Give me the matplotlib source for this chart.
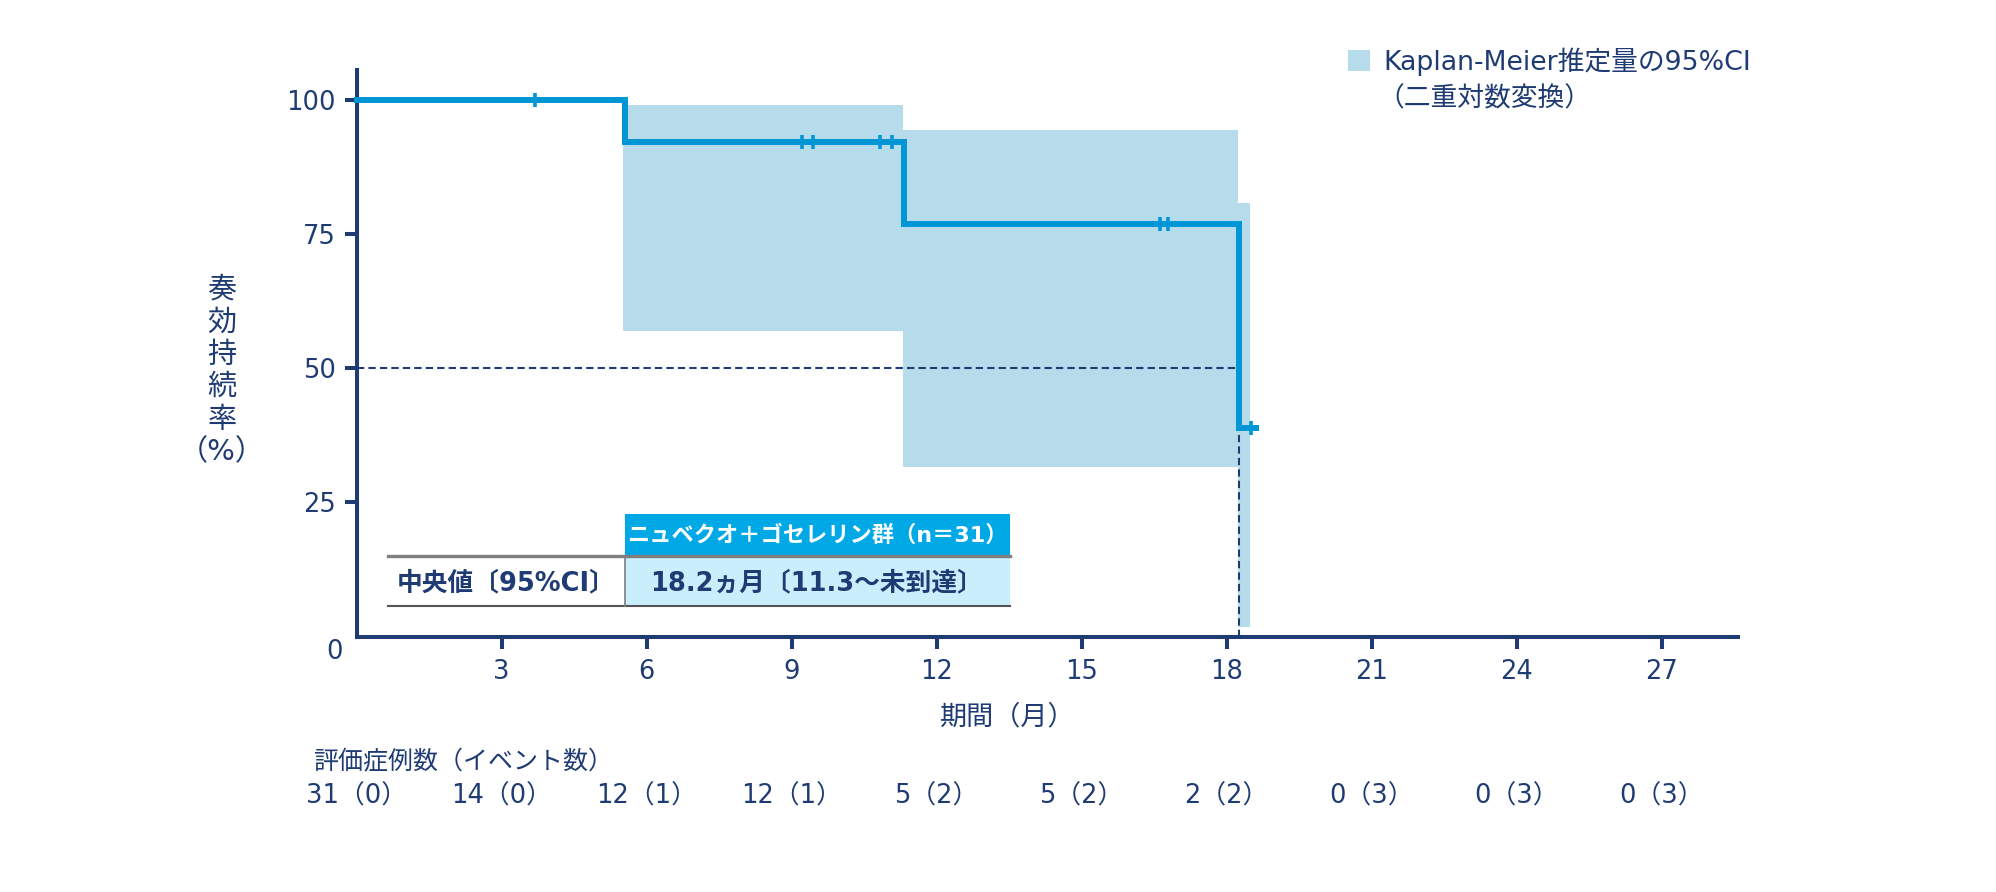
import matplotlib
matplotlib.use("Agg")
import matplotlib.pyplot as plt
from matplotlib.patches import Rectangle
from matplotlib.lines import Line2D
from matplotlib.transforms import blended_transform_factory

plt.rcParams['font.family'] = ['DejaVu Sans', 'Noto Sans CJK JP']

# ---------------- data ----------------
step_times = [0, 5.55, 11.32, 18.26, 18.6]
step_surv = [100, 92.1, 76.8, 38.8, 38.8]

ci_times = [5.52, 11.3, 18.24, 18.48]
ci_upper = [98.9, 94.3, 80.8, 80.8]
ci_lower = [56.9, 31.5, 1.75, 1.75]

censor_times = [3.68, 9.21, 9.45, 10.83, 11.07, 16.62, 16.78, 18.5]
censor_surv = [100, 92.1, 92.1, 92.1, 92.1, 76.8, 76.8, 38.8]

median_time = 18.26
x_ticks = [3, 6, 9, 12, 15, 18, 21, 24, 27]
y_ticks = [25, 50, 75, 100]

risk_times = [0, 3, 6, 9, 12, 15, 18, 21, 24, 27]
risk_n = [31, 14, 12, 12, 5, 5, 2, 0, 0, 0]
risk_events = [0, 0, 1, 1, 2, 2, 2, 3, 3, 3]

ylabel_text = "奏\n効\n持\n続\n率\n（%）"
xlabel_text = "期間（月）"
risk_title = "評価症例数（イベント数）"
legend_line1 = "Kaplan-Meier推定量の95%CI"
legend_line2 = "（二重対数変換）"
table_header = "ニュベクオ＋ゴセレリン群（n＝31）"
table_rowlabel = "中央値〔95%CI〕"
table_value = "18.2ヵ月〔11.3～未到達〕"

# ---------------- style ----------------
NAVY = '#1f3b73'
CURVE = '#0096d6'
BAND = '#b6dcec'
HEADER = '#00a9e6'
CELL = '#c9eefc'

W_PX, H_PX = 1996, 892
fig = plt.figure(figsize=(W_PX / 100, H_PX / 100), dpi=100)


def fx(x):
    return x / W_PX


def fy(y):
    return 1 - y / H_PX


L, R = 356.7, 1738
T, B = 70, 636.7
ax = fig.add_axes([fx(L), fy(B), fx(R) - fx(L), fy(T) - fy(B)])
ax.set_xlim(0, 28.58)
ax.set_ylim(0, 105.5)

for s in ['top', 'right']:
    ax.spines[s].set_visible(False)
for s in ['left', 'bottom']:
    ax.spines[s].set_color(NAVY)
    ax.spines[s].set_linewidth(2.9)

ax.set_xticks(x_ticks)
ax.set_yticks(y_ticks)
ax.tick_params(axis='both', direction='out', length=8.5, width=2.9,
               color=NAVY, labelcolor=NAVY, labelsize=18.5)
ax.tick_params(axis='x', pad=7.5)
ax.tick_params(axis='y', pad=6.5)
ax.text(-0.45, -2.9, '0', ha='center', va='center', fontsize=18.5,
        color=NAVY, clip_on=False)

# CI band
ax.fill_between(ci_times, ci_lower, ci_upper, step='post', color=BAND,
                linewidth=0, zorder=1)

# median dashed lines
ax.plot([0, median_time], [50, 50], color=NAVY, lw=1.5, dashes=(3.5, 2),
        zorder=2)
ax.plot([median_time, median_time], [0, step_surv[3]], color=NAVY, lw=1.5,
        dashes=(3.5, 2), zorder=2)

# KM curve
ax.plot(step_times, step_surv, drawstyle='steps-post', color=CURVE, lw=4.3,
        solid_joinstyle='miter', zorder=3, clip_on=False)
ax.plot(censor_times, censor_surv, linestyle='none', marker='|',
        markersize=10, markeredgewidth=2.6, color=CURVE, zorder=4,
        clip_on=False)

# labels
fig.text(fx(222), fy(371), ylabel_text, ha='center', va='center',
         fontsize=21, color=NAVY, linespacing=1.2)
fig.text(fx(1008), fy(717), xlabel_text, ha='center', va='center',
         fontsize=19.5, color=NAVY)

# number at risk
tr = blended_transform_factory(ax.transData, fig.transFigure)
fig.text(fx(313), fy(762), risk_title, ha='left', va='center', fontsize=18,
         color=NAVY)
for t, n, e in zip(risk_times, risk_n, risk_events):
    ax.text(t, fy(797), f"{n}（{e}）", transform=tr, ha='center',
            va='center', fontsize=18.5, color=NAVY, clip_on=False)

# legend
fig.add_artist(Rectangle((fx(1348), fy(71)), fx(22), 21 / H_PX,
                         transform=fig.transFigure, facecolor=BAND,
                         edgecolor='none'))
fig.text(fx(1383), fy(62), legend_line1, ha='left', va='center',
         fontsize=19.3, color=NAVY)
fig.text(fx(1377), fy(99), legend_line2, ha='left', va='center',
         fontsize=19.3, color=NAVY)

# median table
fig.add_artist(Rectangle((fx(625), fy(556)), fx(1009.5) - fx(625),
                         (556 - 514) / H_PX, transform=fig.transFigure,
                         facecolor=HEADER, edgecolor='none'))
fig.add_artist(Rectangle((fx(625), fy(606)), fx(1009.5) - fx(625),
                         (606 - 556) / H_PX, transform=fig.transFigure,
                         facecolor=CELL, edgecolor='none'))
fig.add_artist(Line2D([fx(388), fx(1009.5)], [fy(556), fy(556)],
                      transform=fig.transFigure, color='#7f7f7f', lw=2.4))
fig.add_artist(Line2D([fx(388), fx(1009.5)], [fy(606), fy(606)],
                      transform=fig.transFigure, color='#555555', lw=1.5))
fig.add_artist(Line2D([fx(625), fx(625)], [fy(556), fy(606)],
                      transform=fig.transFigure, color='#7f7f7f', lw=1.2))
fig.text(fx(817), fy(535), table_header, ha='center', va='center',
         fontsize=16, color='white', fontweight='bold')
fig.text(fx(506), fy(583), table_rowlabel, ha='center', va='center',
         fontsize=18.5, color=NAVY, fontweight='bold')
fig.text(fx(817), fy(583), table_value, ha='center', va='center',
         fontsize=18.5, color=NAVY, fontweight='bold')

fig.savefig('out.png', dpi=100, facecolor='white')
